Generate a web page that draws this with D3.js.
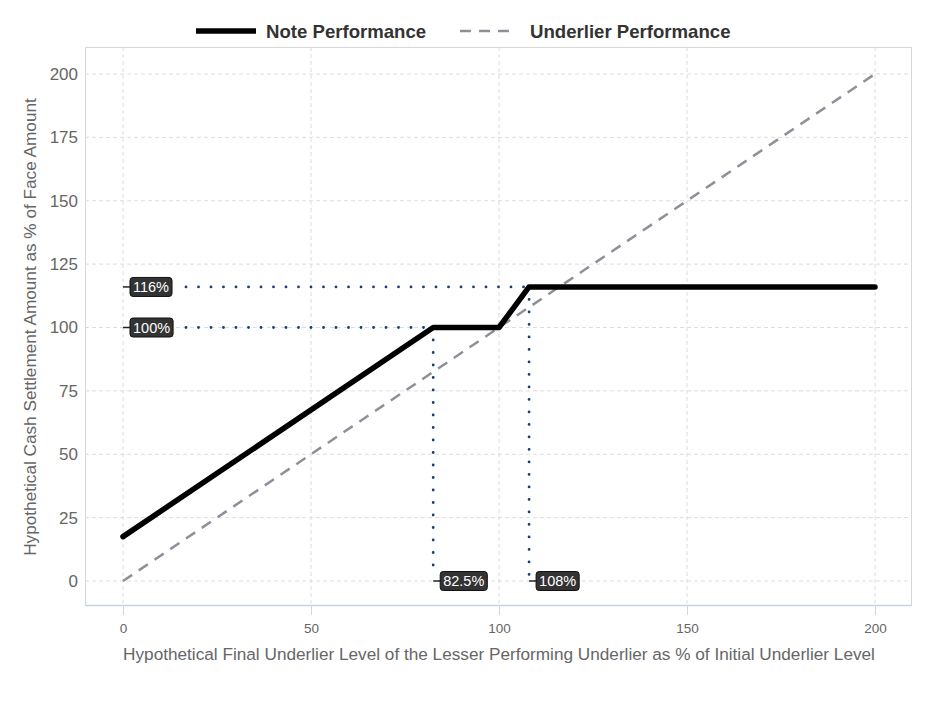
<!DOCTYPE html>
<html><head><meta charset="utf-8">
<script src="https://cdn.jsdelivr.net/npm/d3@7"></script>
<style>body{margin:0;background:#fff;} svg text{font-family:"Liberation Sans",Arial,sans-serif;}</style>
</head><body><svg id="c" width="938" height="703"></svg>
<script>
const xTicks = [0, 50, 100, 150, 200];
const yTicks = [0, 25, 50, 75, 100, 125, 150, 175, 200];
const noteX = [0, 82.5, 100, 108, 200];
const noteY = [17.5, 100, 100, 116, 116];
const underX = [0, 200];
const underY = [0, 200];
const hLevels = [116, 100];
const hLabels = ["116%", "100%"];
const hEndX = [108, 82.5];
const vLevels = [82.5, 108];
const vLabels = ["82.5%", "108%"];
const vTopY = [100, 116];
const seriesNames = ["Note Performance", "Underlier Performance"];

const svg = d3.select("#c");
const L = 85, R = 912, T = 47, B = 606;
const x = d3.scaleLinear().domain([0, 200]).range([123, 875]);
const y = d3.scaleLinear().domain([0, 200]).range([581, 74]);

// plot border
svg.append("rect").attr("x", L + 0.5).attr("y", T + 0.5).attr("width", R - L - 1).attr("height", B - T - 1)
  .attr("fill", "none").attr("stroke", "#d6d6d6");
svg.append("line").attr("x1", L).attr("x2", R).attr("y1", B - 0.5).attr("y2", B - 0.5).attr("stroke", "#c6d3e6").attr("stroke-width", 1.5);

// grid
svg.append("g").selectAll("line").data(xTicks).join("line")
  .attr("x1", d => x(d)).attr("x2", d => x(d)).attr("y1", T).attr("y2", B)
  .attr("stroke", "#dcdcdc").attr("stroke-dasharray", "4,3");
svg.append("g").selectAll("line").data(yTicks).join("line")
  .attr("x1", L).attr("x2", R).attr("y1", d => y(d)).attr("y2", d => y(d))
  .attr("stroke", "#dcdcdc").attr("stroke-dasharray", "4,3");

// axes
const xa = svg.append("g").attr("transform", `translate(0,${B})`)
  .call(d3.axisBottom(x).tickValues(xTicks).tickSize(9).tickPadding(8));
xa.select(".domain").remove();
xa.selectAll("line").attr("stroke", "#ccd6eb");
xa.selectAll("text").attr("fill", "#666").attr("font-size", 13.5).attr("font-family", null);
const ya = svg.append("g").attr("transform", `translate(${L},0)`)
  .call(d3.axisLeft(y).tickValues(yTicks).tickSize(0).tickPadding(7));
ya.select(".domain").remove();
ya.selectAll("text").attr("fill", "#666").attr("font-size", 17).attr("font-family", null);

// axis titles
svg.append("text").attr("x", 499).attr("y", 660).attr("text-anchor", "middle")
  .attr("fill", "#666").attr("font-size", 17.2).text("Hypothetical Final Underlier Level of the Lesser Performing Underlier as % of Initial Underlier Level");
svg.append("text").attr("transform", "translate(36,327) rotate(-90)").attr("text-anchor", "middle")
  .attr("fill", "#666").attr("font-size", 17.2).text("Hypothetical Cash Settlement Amount as % of Face Amount");

// underlier
const lineGen = d3.line().x(d => x(d[0])).y(d => y(d[1]));
svg.append("path").datum(underX.map((v, i) => [v, underY[i]])).attr("d", lineGen)
  .attr("fill", "none").attr("stroke", "#8f8f9a").attr("stroke-width", 2.5).attr("stroke-dasharray", "11,8");

// dotted guides
const dotColor = "#1a3a78";
hLevels.forEach((lv, i) => {
  svg.append("line").attr("x1", x(0) + 63).attr("x2", x(hEndX[i])).attr("y1", y(lv)).attr("y2", y(lv))
    .attr("stroke", dotColor).attr("stroke-width", 2.8).attr("stroke-linecap", "round").attr("stroke-dasharray", "0,12.5");
});
vLevels.forEach((lv, i) => {
  svg.append("line").attr("x1", x(lv)).attr("x2", x(lv)).attr("y1", y(vTopY[i])).attr("y2", y(0) - 4)
    .attr("stroke", dotColor).attr("stroke-width", 2.8).attr("stroke-linecap", "round").attr("stroke-dasharray", "0,12.5");
});

// note
svg.append("path").datum(noteX.map((v, i) => [v, noteY[i]])).attr("d", lineGen)
  .attr("fill", "none").attr("stroke", "#000").attr("stroke-width", 5.5).attr("stroke-linecap", "round").attr("stroke-linejoin", "round");

// labels
function label(px, py, txt) {
  const g = svg.append("g");
  g.append("line").attr("x1", px).attr("x2", px + 8).attr("y1", py).attr("y2", py).attr("stroke", "#222").attr("stroke-width", 1.5);
  const t = g.append("text").attr("x", px + 10).attr("y", py + 5).attr("fill", "#fff").attr("font-size", 14.5).text(txt);
  const w = t.node().getComputedTextLength();
  g.insert("rect", "text").attr("x", px + 7).attr("y", py - 9.5).attr("width", w + 6).attr("height", 19)
    .attr("rx", 3).attr("fill", "#333").attr("stroke", "#111").attr("stroke-width", 1);
}
hLevels.forEach((lv, i) => label(x(0), y(lv), hLabels[i]));
vLevels.forEach((lv, i) => label(x(lv), y(0), vLabels[i]));

// legend
const lg = svg.append("g").attr("font-weight", "bold").attr("font-size", 18.6).attr("fill", "#333");
lg.append("line").attr("x1", 196).attr("x2", 256).attr("y1", 31).attr("y2", 31).attr("stroke", "#000").attr("stroke-width", 5.5);
lg.append("text").attr("x", 266).attr("y", 37.5).text(seriesNames[0]);
lg.append("line").attr("x1", 460).attr("x2", 515).attr("y1", 31).attr("y2", 31).attr("stroke", "#8f8f9a").attr("stroke-width", 2.5).attr("stroke-dasharray", "11,8");
lg.append("text").attr("x", 530).attr("y", 37.5).text(seriesNames[1]);
</script></body></html>
